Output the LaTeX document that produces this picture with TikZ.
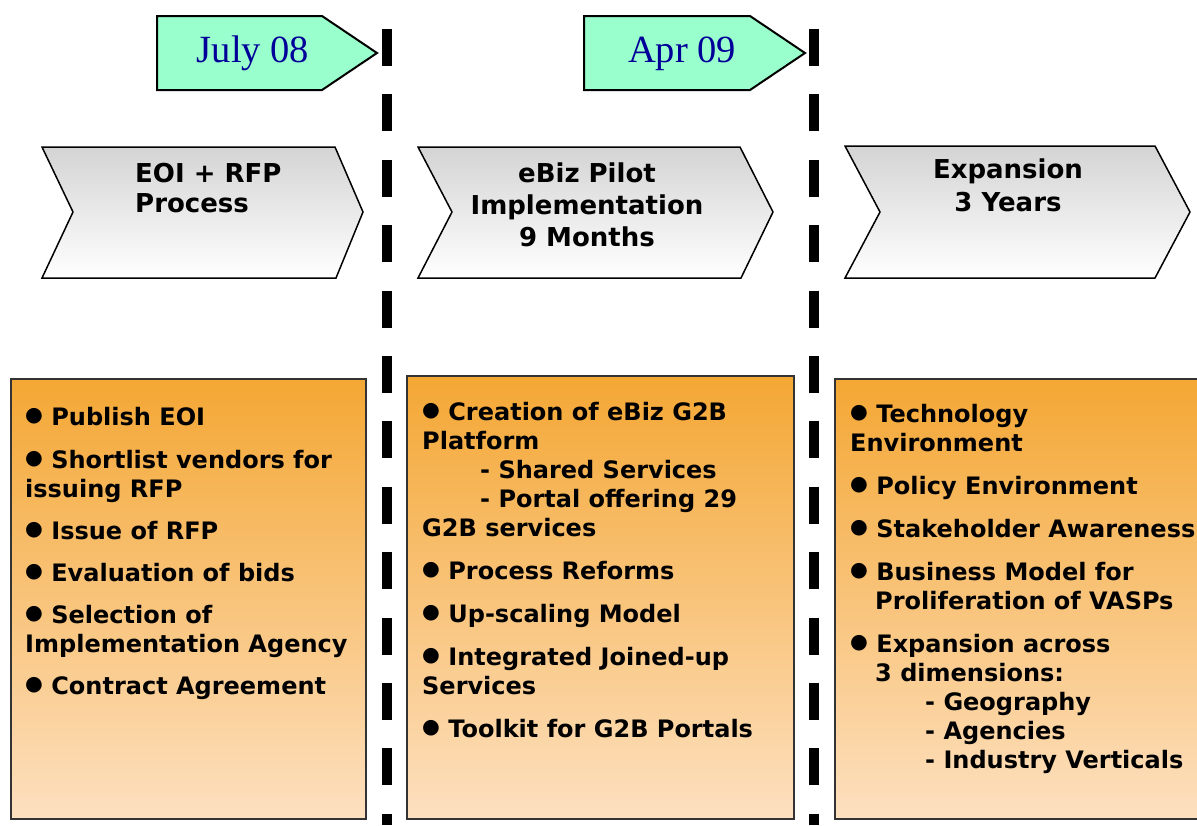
\documentclass[tikz,border=0pt]{standalone}
\usepackage{fontspec}
\setmainfont{DejaVu Sans}
\newfontfamily\datefont{Liberation Serif}

\definecolor{datefill}{RGB}{153,255,204}
\definecolor{datetext}{RGB}{0,0,153}
\definecolor{boxtop}{RGB}{244,167,52}
\definecolor{boxbottom}{RGB}{253,224,192}
\definecolor{phasetop}{RGB}{212,212,212}

\newcommand{\blt}{\raisebox{4pt}{\scalebox{0.85}{●}}\ }

\tikzset{
	datetag/.style={draw=black, line width=2pt, fill=datefill},
	phase/.style={draw=black, line width=1.5pt, top color=phasetop, bottom color=white},
	taskbox/.style={draw=black!80, line width=1.5pt, top color=boxtop, bottom color=boxbottom},
	milestone/.style={line width=9.5pt, dash pattern=on 37pt off 28.4pt},
	datelabel/.style={font=\datefont\fontsize{38.5}{40}\selectfont, text=datetext, inner sep=0pt, anchor=base},
	phaselabel/.style={font=\bfseries\fontsize{26}{32}\selectfont, inner sep=0pt},
	tasklist/.style={font=\bfseries\fontsize{24}{29}\selectfont, align=left, inner sep=0pt, anchor=base west},
}

\begin{document}
\begin{tikzpicture}[x=1pt,y=-1pt]
	\useasboundingbox (0,0) rectangle (1197,825);
	\clip (0,0) rectangle (1197,825);
	% milestones
	\draw[milestone] (387,29) -- (387,825);
	\draw[milestone] (814,29) -- (814,825);
	% dates
	\draw[datetag] (157,16) -- (322,16) -- (377,53) -- (322,90) -- (157,90) -- cycle;
	\node[datelabel] (july) at (253,62) {July 08};
	\draw[datetag] (584,16) -- (750,16) -- (805,53) -- (750,90) -- (584,90) -- cycle;
	\node[datelabel] (apr) at (682,62) {Apr 09};
	% phases (base = last line)
	\draw[phase] (42,147) -- (335,147) -- (363,212) -- (336,278) -- (42,278) -- (73,212) -- cycle;
	\node[phaselabel, align=left, anchor=base west] (eoi) at (135,212) {EOI + RFP\\[-2pt]Process};
	\draw[phase] (418,147) -- (740,147) -- (773,212) -- (741,278) -- (418,278) -- (452,212) -- cycle;
	\node[phaselabel, align=center, anchor=base] (pilot) at (587,246) {eBiz Pilot\\Implementation\\9 Months};
	\draw[phase] (845,146) -- (1155,146) -- (1190,212) -- (1155,278) -- (845,278) -- (880,212) -- cycle;
	\node[phaselabel, align=center, anchor=base] (expansion) at (1008,211) {Expansion\\[1pt]3 Years};
	% task boxes
	\draw[taskbox] (11,379) rectangle (366,819);
	\node[tasklist] (eoitasks) at (25,694) {\blt Publish EOI\\[14pt]
		\blt Shortlist vendors for\\
		issuing RFP\\[13pt]
		\blt Issue of RFP\\[13pt]
		\blt Evaluation of bids\\[13pt]
		\blt Selection of\\
		Implementation Agency\\[13pt]
		\blt Contract Agreement};
	\draw[taskbox] (407,376) rectangle (794,819);
	\node[tasklist] (pilottasks) at (422,737) {\blt Creation of eBiz G2B\\
		Platform\\
		\hspace*{58pt}- Shared Services\\
		\hspace*{58pt}- Portal offering 29\\
		G2B services\\[14pt]
		\blt Process Reforms\\[14pt]
		\blt Up-scaling Model\\[14pt]
		\blt Integrated Joined-up\\
		Services\\[14pt]
		\blt Toolkit for G2B Portals};
	\draw[taskbox] (835,379) rectangle (1215,819);
	\node[tasklist] (expansiontasks) at (850,768) {\blt Technology\\
		Environment\\[14pt]
		\blt Policy Environment\\[14pt]
		\blt Stakeholder Awareness\\[14pt]
		\blt Business Model for\\
		\hspace*{25pt}Proliferation of VASPs\\[14pt]
		\blt Expansion across\\
		\hspace*{25pt}3 dimensions:\\
		\hspace*{75pt}- Geography\\
		\hspace*{75pt}- Agencies\\
		\hspace*{75pt}- Industry Verticals};
\end{tikzpicture}
\end{document}
